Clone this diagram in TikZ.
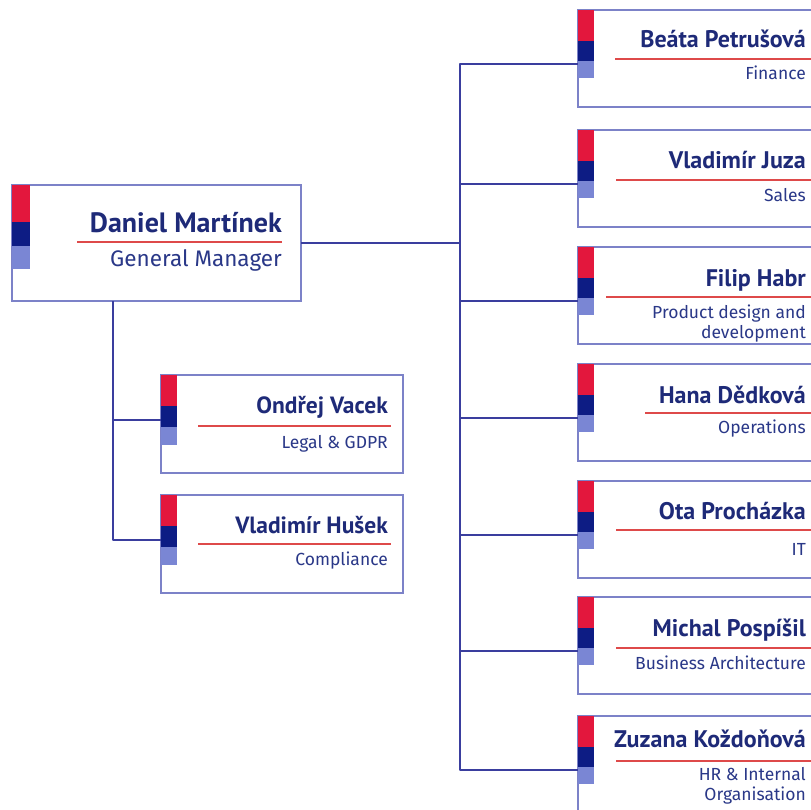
\documentclass[tikz,border=0pt]{standalone}
\usepackage{fontspec}
\setmainfont{PT Sans}
\newfontfamily\subfont{Fira Sans}
\definecolor{namecol}{HTML}{1E2A78}
\definecolor{subcol}{HTML}{2A3888}
\definecolor{barred}{HTML}{E3173D}
\definecolor{bardark}{HTML}{0D1C84}
\definecolor{barlight}{HTML}{7A86D4}
\definecolor{bordercol}{HTML}{7C82C8}
\definecolor{conncol}{HTML}{3A3E9E}
\definecolor{ulinecol}{HTML}{DE4A4A}
\tikzset{
  x=1pt, y=-1pt,
  box/.style={draw=bordercol, line width=1.4pt, rectangle, inner sep=0pt, outer sep=0pt, fill=white},
  conn/.style={draw=conncol, line width=1.8pt, line join=round},
  uline/.style={draw=ulinecol, line width=1.5pt},
  bigname/.style={font=\fontsize{28}{30}\selectfont\bfseries, text=namecol, inner sep=0pt, anchor=base east},
  bigsub/.style={font=\subfont\fontsize{22.5}{24}\selectfont, text=subcol, inner sep=0pt, anchor=base east},
  pname/.style={font=\fontsize{24}{26}\selectfont\bfseries, text=namecol, inner sep=0pt, anchor=base east},
  psub/.style={font=\subfont\fontsize{17.5}{20}\selectfont, text=subcol, inner sep=0pt, anchor=base east, align=right},
}
% right-hand box: #1 id, #2 top, #3 name, #4 subtitle, #5 underline start, #6 name baseline, #7 line y, #8 last sub baseline
\newcommand\rightbox[8]{%
  \begin{scope}[shift={(578,#2)}]
    \node[box, minimum width=260pt, minimum height=97pt, anchor=north west] (#1) at (0,0) {};
    \fill[barred] (0,0) rectangle (16,31);
    \fill[bardark] (0,31) rectangle (16,51);
    \fill[barlight] (0,51) rectangle (16,68);
    \coordinate (#1j) at (0,54);
    \draw[uline] (#5,#7) -- (240,#7);
    \node[pname] (#1n) at (228,#6) {#3};
    \node[psub] (#1s) at (228,#8) {#4};
  \end{scope}}
% left small box
\newcommand\leftbox[8]{%
  \begin{scope}[shift={(161,#2)}]
    \node[box, minimum width=242pt, minimum height=98pt, anchor=north west] (#1) at (0,0) {};
    \fill[barred] (0,0) rectangle (16,31);
    \fill[bardark] (0,31) rectangle (16,52);
    \fill[barlight] (0,52) rectangle (16,70);
    \coordinate (#1j) at (0,45);
    \draw[uline] (#5,#7) -- (230,#7);
    \node[pname, font=\fontsize{23.5}{26}\selectfont\bfseries] (#1n) at (227,#6) {#3};
    \node[psub] (#1s) at (227,#8) {#4};
  \end{scope}}
\begin{document}
\begin{tikzpicture}
\useasboundingbox (0,0) rectangle (810,810);
\fill[white] (0,0) rectangle (810,810);

% main box
\begin{scope}[shift={(12,185)}]
  \node[box, minimum width=289pt, minimum height=116pt, anchor=north west] (dm) at (0,0) {};
  \fill[barred] (0,0) rectangle (18,37);
  \fill[bardark] (0,37) rectangle (18,61);
  \fill[barlight] (0,61) rectangle (18,84);
  \draw[uline] (65,57) -- (270,57);
  \node[bigname] (dmn) at (270,48) {Daniel Martínek};
  \node[bigsub] (dms) at (270,81) {General Manager};
\end{scope}

\leftbox{ov}{375}{Ondřej Vacek}{Legal \& GDPR}{37}{38}{51}{73}
\leftbox{vh}{495}{Vladimír Hušek}{Compliance}{37}{38}{49}{70}

\rightbox{bp}{10}{Beáta Petrušová}{Finance}{37}{38}{49}{70}
\rightbox{vj}{130}{Vladimír Juza}{Sales}{38}{39}{50}{72}
\rightbox{fh}{247}{Filip Habr}{Product design and\\development}{28}{39}{50}{91}
\rightbox{hd}{364}{Hana Dědková}{Operations}{67}{39}{49}{69}
\rightbox{op}{481}{Ota Procházka}{IT}{38}{38}{49}{74}
\rightbox{mp}{597}{Michal Pospíšil}{Business Architecture}{38}{39}{51}{72}
\rightbox{zk}{716}{Zuzana Koždoňová}{HR \& Internal\\Organisation}{38}{31}{45}{84}

% connectors
\coordinate (rt) at (460,243);
\coordinate (lt) at (113,301);
\draw[conn] (dm.east) -- (dm.east -| rt);
\draw[conn] (bpj) -- (bpj -| rt) -- (zkj -| rt) -- (zkj);
\draw[conn] (vjj -| rt) -- (vjj);
\draw[conn] (fhj -| rt) -- (fhj);
\draw[conn] (hdj -| rt) -- (hdj);
\draw[conn] (opj -| rt) -- (opj);
\draw[conn] (mpj -| rt) -- (mpj);
\draw[conn] (lt) -- (vhj -| lt) -- (vhj);
\draw[conn] (ovj -| lt) -- (ovj);
\end{tikzpicture}
\end{document}
